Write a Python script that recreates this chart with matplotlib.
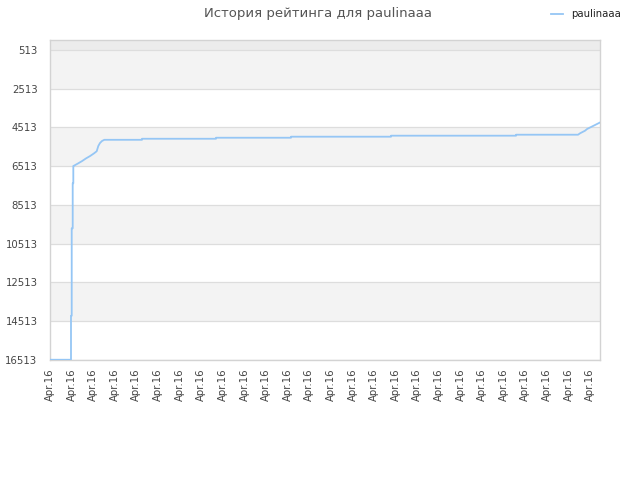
import numpy as np
import matplotlib as mpl
import matplotlib.pyplot as plt

mpl.use('Agg')
mpl.rcParams['font.family'] = 'DejaVu Sans'

# --- данные ---
player = 'paulinaaa'
title = 'История рейтинга для paulinaaa'

# позиция по оси x в единицах делений (0 .. 25), углы ступенек повторяются
x_pos = [0.0, 0.972, 0.972, 1.005, 1.005, 1.051, 1.051, 1.079, 1.079,
         1.111, 1.282, 1.481, 1.667, 1.852, 2.037, 2.162, 2.236, 2.315,
         2.407, 2.514,
         4.259, 4.259, 7.685, 7.685, 11.157, 11.157, 15.787, 15.787,
         21.574, 21.574, 24.444, 24.537, 24.769, 24.861, 25.0, 25.231, 25.44]
rating = [16500, 16500, 14230, 14230, 9717, 9717, 7394, 7394, 6502,
          6486, 6380, 6250, 6110, 5990, 5850, 5740, 5470, 5315,
          5212, 5150,
          5150, 5096, 5096, 5043, 5043, 4990, 4990, 4938,
          4938, 4887, 4887, 4814, 4680, 4593, 4515, 4386, 4268]

n_ticks = 26
tick_labels = ['Apr.16'] * n_ticks
y_ticks = [513, 2513, 4513, 6513, 8513, 10513, 12513, 14513, 16513]

text_col = '#444444'
grid_col = '#dddddd'
line_col = '#95c6f5'

fig = plt.figure(figsize=(6.4, 4.8), dpi=100)
ax = fig.add_axes([50 / 640, 120 / 480, 550 / 640, 320 / 480])

ax.set_xlim(0, 25.46)
ax.set_ylim(16513, 0)

# полосы фона
ax.axhspan(0, 513, color='#ececec', zorder=0, lw=0)
for lo in y_ticks[:-1:2]:
    ax.axhspan(lo, lo + 2000, color='#f3f3f3', zorder=0, lw=0)
for yv in y_ticks:
    ax.axhline(yv, color=grid_col, lw=0.9, zorder=1)

ax.plot(x_pos, rating, color=line_col, lw=1.3, zorder=3, label=player)

ax.set_yticks(y_ticks)
ax.set_yticklabels([str(v) for v in y_ticks])
ax.set_xticks(np.arange(n_ticks))
ax.set_xticklabels(tick_labels, rotation=90)
ax.tick_params(axis='both', length=0, labelsize=7.3, labelcolor=text_col)
ax.tick_params(axis='y', pad=9)
ax.tick_params(axis='x', pad=6)

for sp in ax.spines.values():
    sp.set_color('#d3d3d3')
    sp.set_linewidth(1.0)

fig.text(0.497, 0.972, title, ha='center', va='center', fontsize=9.5,
         color='#555555')
fig.legend(loc='upper right', bbox_to_anchor=(0.985, 1.0), frameon=False,
           fontsize=7.3, handlelength=1.2, labelcolor='#222222')

fig.savefig('out.png', dpi=100)
